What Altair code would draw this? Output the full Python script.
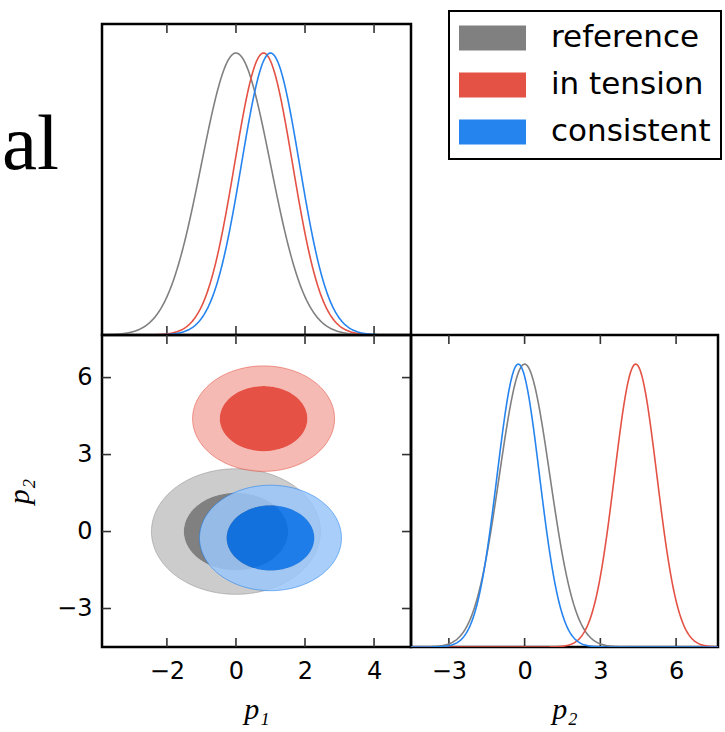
import numpy as np
import pandas as pd
import altair as alt

# Three chains, each summarised by a Gaussian posterior in (p1, p2)
chains = ["reference", "in tension", "consistent"]
p1_mean = [0.0, 0.8, 1.0]
p1_sigma = [1.0, 0.84, 0.84]
p2_mean = [0.0, 4.4, -0.25]
p2_sigma = [1.0, 0.84, 0.84]

base_colors = ["#808080", "#E03424", "#006FED"]
fill_alpha = [1.0, 0.85, 0.85]
line_colors = ["#808080", "#e45245", "#2684ef"]

# Credible levels of the filled 2D contours
levels = [0.68, 0.95]

p1_ticks = [-2, 0, 2, 4]
p2_ticks = [-3, 0, 3, 6]
p1_range = [-3.88, 5.07]
p2_range = [-4.5, 7.66]
pdf_range = [0, 1.103]

row_label = "al"

W1, W2 = 309, 307
H_TOP, H_BOT = 311, 312
TICK = 9


def marginal(means, sigmas, lo, hi, n=500):
    rows = []
    x = np.linspace(lo, hi, n)
    for name, m, s in zip(chains, means, sigmas):
        y = np.exp(-0.5 * ((x - m) / s) ** 2)
        rows.append(pd.DataFrame({"x": x, "pdf": y, "chain": name}))
    return pd.concat(rows, ignore_index=True)


def ellipse(cx, cy, sx, sy, r, reverse=False, n=241):
    t = np.linspace(0.0, 2.0 * np.pi, n)
    if reverse:
        t = t[::-1]
    return cx + r * sx * np.cos(t), cy + r * sy * np.sin(t)


radii = [float(np.sqrt(-2.0 * np.log(1.0 - p))) for p in levels]

sx1 = alt.Scale(domain=p1_range, nice=False, zero=False)
sy2 = alt.Scale(domain=p2_range, nice=False, zero=False)
sx2 = alt.Scale(domain=p2_range, nice=False, zero=False)
spdf = alt.Scale(domain=pdf_range, nice=False, zero=False)

axis_common = dict(
    ticks=False, domain=False, grid=False,
    labelFont="DejaVu Sans", labelFontSize=24, labelColor="black",
    titleFont="Liberation Serif", titleFontSize=30, titleFontStyle="italic",
    titleFontWeight="normal", titleColor="black",
)
ax_p1 = alt.Axis(values=p1_ticks, format="d", title="p₁", labelPadding=12,
                 titlePadding=11, **axis_common)
ax_p2y = alt.Axis(values=p2_ticks, format="d", title="p₂", labelPadding=10,
                  titlePadding=22, **axis_common)
ax_p2x = alt.Axis(values=p2_ticks, format="d", title="p₂", labelPadding=12,
                  titlePadding=11, **axis_common)

# wide flat swatch: a horizontal stroke, 25 px thick
swatch = "M-11.17,0H11.17"
legend = alt.Legend(
    title=None, orient="none", legendX=347, legendY=-13, direction="vertical",
    symbolType=swatch, symbolSize=36, symbolStrokeWidth=25, symbolOpacity=1,
    symbolOffset=18, clipHeight=34,
    labelFont="DejaVu Sans", labelFontSize=31, labelColor="black",
    labelOffset=43, labelLimit=400, rowPadding=13, padding=10,
    strokeColor="black", fillColor="white",
)
color = alt.Color("chain:N", scale=alt.Scale(domain=chains, range=line_colors),
                  legend=legend)

tick_df1 = pd.DataFrame({"v": p1_ticks})
tick_df2 = pd.DataFrame({"v": p2_ticks})


def xticks(df, xenc, h):
    base = alt.Chart(df).mark_rule(color="#333333", strokeWidth=1.6)
    return [
        base.encode(x=xenc, y=alt.value(h), y2=alt.value(h - TICK)),
        base.encode(x=xenc, y=alt.value(0), y2=alt.value(TICK)),
    ]


def yticks(df, yenc, w):
    base = alt.Chart(df).mark_rule(color="#333333", strokeWidth=1.6)
    return [
        base.encode(y=yenc, x=alt.value(0), x2=alt.value(TICK)),
        base.encode(y=yenc, x=alt.value(w), x2=alt.value(w - TICK)),
    ]


# --- top-left: marginal of p1
m1 = marginal(p1_mean, p1_sigma, p1_range[0], p1_range[1])
top_lines = alt.Chart(m1).mark_line(strokeWidth=1.6, clip=True).encode(
    x=alt.X("x:Q", scale=sx1, axis=None),
    y=alt.Y("pdf:Q", scale=spdf, axis=None),
    color=color,
    detail="chain:N",
)
top_label = alt.Chart(pd.DataFrame({"label": [row_label]})).mark_text(
    font="Liberation Serif", fontSize=79, align="left", baseline="alphabetic",
    color="black",
).encode(x=alt.value(-100), y=alt.value(145), text="label:N")
top = alt.layer(
    *xticks(tick_df1, alt.X("v:Q", scale=sx1, axis=None), H_TOP),
    top_lines, top_label,
).properties(width=W1, height=H_TOP)

# --- bottom-left: 2D filled contours
x2d = lambda f: alt.X(f, type="quantitative", scale=sx1, axis=ax_p1)
y2d = lambda f: alt.Y(f, type="quantitative", scale=sy2, axis=ax_p2y)

layers2d = []
for i, name in enumerate(chains):
    cx, cy, s1, s2 = p1_mean[i], p2_mean[i], p1_sigma[i], p2_sigma[i]
    r_in, r_out = radii[0], radii[1]
    ox, oy = ellipse(cx, cy, s1, s2, r_out)
    ix, iy = ellipse(cx, cy, s1, s2, r_in, reverse=True)
    ring = pd.DataFrame({"p1": np.r_[ox, ix], "p2": np.r_[oy, iy]})
    ring["k"] = np.arange(len(ring))
    jx, jy = ellipse(cx, cy, s1, s2, r_in)
    core = pd.DataFrame({"p1": jx, "p2": jy, "k": np.arange(len(jx))})
    edge = pd.DataFrame({"p1": ox, "p2": oy, "k": np.arange(len(ox))})

    c = base_colors[i]
    pale = "#%02x%02x%02x" % tuple(
        int(round(v + (255 - v) * 0.6)) for v in
        (int(c[1:3], 16), int(c[3:5], 16), int(c[5:7], 16))
    )
    enc = dict(x=x2d("p1"), y=y2d("p2"), order=alt.Order("k:Q"))
    layers2d.append(alt.Chart(ring).mark_line(
        fill=pale, fillOpacity=fill_alpha[i], strokeOpacity=0).encode(**enc))
    layers2d.append(alt.Chart(core).mark_line(
        fill=c, fillOpacity=fill_alpha[i], strokeOpacity=0).encode(**enc))
    layers2d.append(alt.Chart(edge).mark_line(
        color=c, strokeWidth=1, opacity=0.45).encode(**enc))

bottom_left = alt.layer(
    *layers2d,
    *xticks(tick_df1, x2d("v"), H_BOT),
    *yticks(tick_df2, y2d("v"), W1),
).properties(width=W1, height=H_BOT)

# --- bottom-right: marginal of p2
m2 = marginal(p2_mean, p2_sigma, p2_range[0], p2_range[1])
xr = lambda f: alt.X(f, type="quantitative", scale=sx2, axis=ax_p2x)
br_lines = alt.Chart(m2).mark_line(strokeWidth=1.6, clip=True).encode(
    x=xr("x"),
    y=alt.Y("pdf:Q", scale=spdf, axis=None),
    color=color,
    detail="chain:N",
)
bottom_right = alt.layer(
    *xticks(tick_df2, xr("v"), H_BOT), br_lines,
).properties(width=W2, height=H_BOT)

chart = alt.vconcat(
    top,
    alt.hconcat(bottom_left, bottom_right, spacing=0, bounds="flush"),
    spacing=0, bounds="flush",
).properties(
    padding={"left": 0, "top": 10, "right": 0, "bottom": 0},
    background="white",
).configure_view(
    stroke="black", strokeWidth=2.5
).configure_legend(strokeWidth=2)

chart.save("out.html", embed_options={"renderer": "svg", "actions": False})
